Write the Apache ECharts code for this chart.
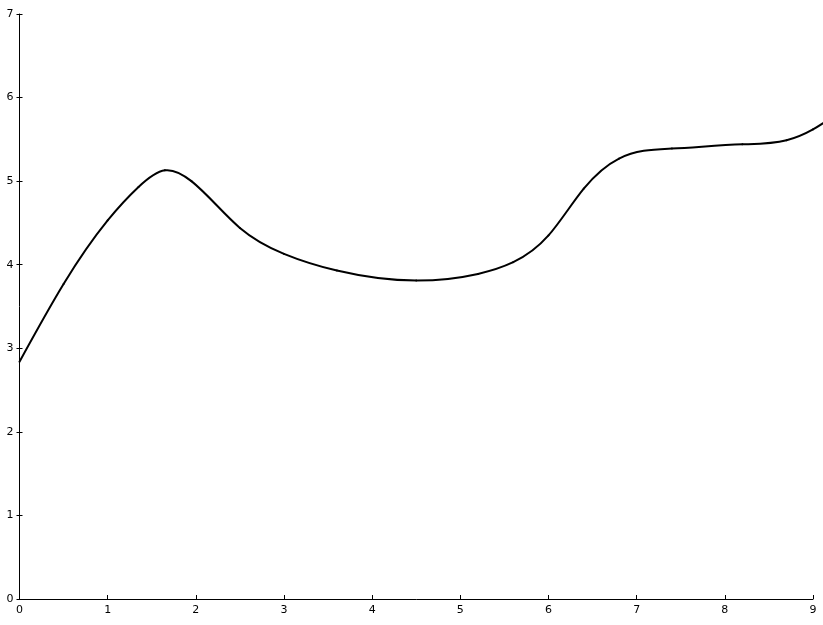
<!DOCTYPE html>
<html>
<head>
<meta charset="utf-8">
<script src="https://cdn.jsdelivr.net/npm/echarts@6/dist/echarts.min.js"></script>
<style>
html,body{margin:0;padding:0;background:#fff;}
#chart{width:823px;height:625px;}
</style>
</head>
<body>
<div id="chart"></div>
<script>
var xValues = [0, 0.5, 1.0, 1.35, 1.65, 1.95, 2.5, 3.0, 3.6, 4.5, 5.2, 5.6, 6.0, 6.4, 6.8, 7.4, 8.2, 8.7, 9.0, 9.25];
var yValues = [2.84, 3.77, 4.53, 4.93, 5.13, 5.00, 4.44, 4.13, 3.93, 3.81, 3.89, 4.03, 4.35, 4.91, 5.27, 5.39, 5.44, 5.49, 5.62, 5.79];
var xTicks = [0, 1, 2, 3, 4, 5, 6, 7, 8, 9];
var yTicks = [0, 1, 2, 3, 4, 5, 6, 7];

var points = xValues.map(function (x, i) { return [x, yValues[i]]; });
var labelFont = { fontFamily: 'DejaVu Sans', fontSize: 11, color: '#000' };

// natural cubic spline second derivatives (data space)
function splineM(xs, ys) {
  var n = xs.length, M = new Array(n).fill(0);
  var a = [], b = [], c = [], r = [];
  for (var i = 1; i < n - 1; i++) {
    var h0 = xs[i] - xs[i - 1], h1 = xs[i + 1] - xs[i];
    a.push(h0); b.push(2 * (h0 + h1)); c.push(h1);
    r.push(6 * ((ys[i + 1] - ys[i]) / h1 - (ys[i] - ys[i - 1]) / h0));
  }
  var m = b.length;
  for (var k = 1; k < m; k++) {
    var w = a[k] / b[k - 1];
    b[k] -= w * c[k - 1];
    r[k] -= w * r[k - 1];
  }
  var sol = new Array(m);
  for (var k2 = m - 1; k2 >= 0; k2--) {
    sol[k2] = (r[k2] - (k2 < m - 1 ? c[k2] * sol[k2 + 1] : 0)) / b[k2];
  }
  for (var j = 0; j < m; j++) M[j + 1] = sol[j];
  return M;
}

function renderCurve(params, api) {
  if (params.dataIndex !== 0) return null;
  var M = splineM(xValues, yValues);
  var children = [];
  for (var i = 0; i < xValues.length - 1; i++) {
    var x0 = xValues[i], x1 = xValues[i + 1], y0 = yValues[i], y1 = yValues[i + 1];
    var h = x1 - x0, d = (y1 - y0) / h;
    var m0 = d - h * (2 * M[i] + M[i + 1]) / 6;
    var m1 = d + h * (M[i] + 2 * M[i + 1]) / 6;
    var p1 = api.coord([x0, y0]);
    var c1 = api.coord([x0 + h / 3, y0 + m0 * h / 3]);
    var c2 = api.coord([x1 - h / 3, y1 - m1 * h / 3]);
    var p2 = api.coord([x1, y1]);
    children.push({
      type: 'bezierCurve',
      shape: { x1: p1[0], y1: p1[1], cpx1: c1[0], cpy1: c1[1], cpx2: c2[0], cpy2: c2[1], x2: p2[0], y2: p2[1] },
      style: { fill: null, stroke: '#000', lineWidth: 2, lineCap: 'round', lineJoin: 'round' },
      silent: true
    });
  }
  return { type: 'group', children: children };
}

var chart = echarts.init(document.getElementById('chart'), null, { renderer: 'canvas' });
chart.setOption({
  animation: false,
  backgroundColor: '#fff',
  grid: { left: 19.5, right: 10, top: 14, bottom: 26, containLabel: false },
  xAxis: [{
    type: 'value', min: xTicks[0], max: xTicks[xTicks.length - 1], interval: 1,
    axisLine: { show: true, onZero: false, lineStyle: { color: '#000', width: 1 } },
    axisTick: { show: true, inside: true, length: 4, lineStyle: { color: '#000' } },
    axisLabel: Object.assign({ margin: 6 }, labelFont),
    splitLine: { show: false }
  }],
  yAxis: [{
    type: 'value', min: yTicks[0], max: yTicks[yTicks.length - 1], interval: 1,
    axisLine: { show: true, onZero: false, lineStyle: { color: '#000', width: 1 } },
    axisTick: { show: true, inside: false, length: 3, lineStyle: { color: '#000' } },
    axisLabel: Object.assign({ margin: 6 }, labelFont),
    splitLine: { show: false }
  }, {
    type: 'value', position: 'left', min: yTicks[0], max: yTicks[yTicks.length - 1], interval: 1,
    axisLine: { show: false, onZero: false },
    axisTick: { show: true, inside: true, length: 3, lineStyle: { color: '#000' } },
    axisLabel: { show: false },
    splitLine: { show: false }
  }],
  series: [{
    type: 'custom',
    data: points,
    encode: { x: 0, y: 1 },
    clip: false,
    renderItem: renderCurve
  }]
});
</script>
</body>
</html>
